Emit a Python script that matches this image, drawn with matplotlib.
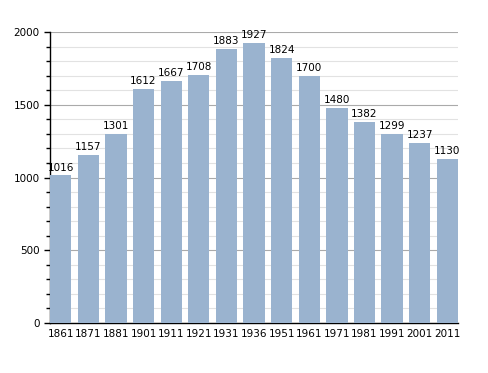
import numpy as np
import matplotlib
matplotlib.use('Agg')
import matplotlib.pyplot as plt
from matplotlib.ticker import MultipleLocator

years = ['1861', '1871', '1881', '1901', '1911', '1921', '1931', '1936',
         '1951', '1961', '1971', '1981', '1991', '2001', '2011']
population = [1016, 1157, 1301, 1612, 1667, 1708, 1883, 1927,
              1824, 1700, 1480, 1382, 1299, 1237, 1130]

fig = plt.figure(figsize=(4.88, 3.73), dpi=100)
ax = fig.add_axes([0.1025, 0.134, 0.836, 0.78])

x = np.arange(len(years))
bar_w = 0.77
ax.bar(x, population, width=bar_w, align='edge', color='#9ab3cf', zorder=3)

for xi, v in zip(x, population):
    ax.text(xi + bar_w / 2, v + 18, str(v), ha='center', va='bottom', fontsize=7.5, zorder=4)

ax.set_xlim(0, len(years) - 1 + bar_w)
ax.set_ylim(0, 2000)
ax.set_xticks(x + bar_w / 2)
ax.set_xticklabels(years, fontsize=7.5)
ax.yaxis.set_major_locator(MultipleLocator(500))
ax.yaxis.set_minor_locator(MultipleLocator(100))
ax.tick_params(axis='y', labelsize=7.5, length=4, width=1)
ax.tick_params(axis='y', which='minor', length=3, width=1)
ax.tick_params(axis='x', length=0, pad=4)

ax.grid(axis='y', which='major', color='#aaaaaa', linewidth=0.8, zorder=0)
ax.grid(axis='y', which='minor', color='#e2e2e2', linewidth=0.8, zorder=0)
ax.set_axisbelow(True)

for side in ['top', 'right']:
    ax.spines[side].set_visible(False)
ax.spines['left'].set_linewidth(1)
ax.spines['bottom'].set_linewidth(1)

fig.savefig('out.png', dpi=100)
